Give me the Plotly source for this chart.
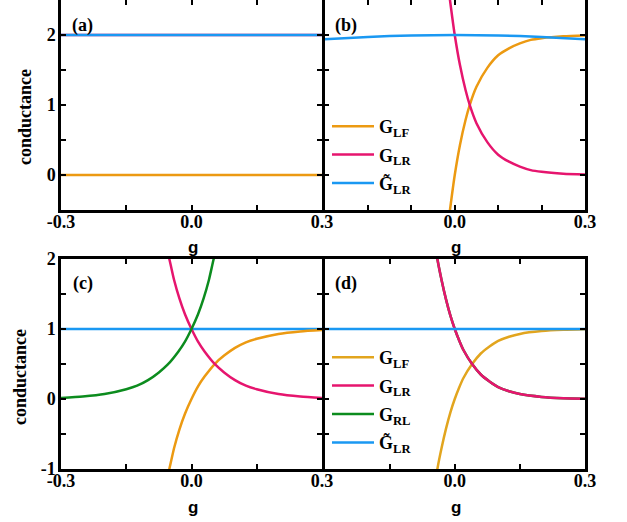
import plotly.graph_objects as go

# ---------------- data ----------------
# panel (a)
g_a = [-0.3, 0.3]
GLF_a = [0.0, 0.0]
GLR_a = [2.0, 2.0]
GLRt_a = [2.0, 2.0]

# panel (b)
g_b = [-0.02, -0.011, 0.0, 0.012, 0.025, 0.035, 0.05, 0.075, 0.1, 0.125, 0.15, 0.175, 0.2, 0.25, 0.3]
GLR_b = [2.95, 2.5, 2.0, 1.57, 1.21, 0.99, 0.74, 0.47, 0.29, 0.19, 0.12, 0.07, 0.045, 0.018, 0.006]
GLF_b = [-0.95, -0.5, 0.0, 0.43, 0.79, 1.01, 1.26, 1.53, 1.71, 1.81, 1.88, 1.93, 1.955, 1.982, 1.994]
g_bt = [-0.3, -0.2, -0.1, 0.0, 0.1, 0.2, 0.3]
GLRt_b = [1.94, 1.973, 1.993, 2.0, 1.993, 1.973, 1.94]

# panel (c)
g_c = [-0.06, -0.051, -0.04, -0.028, -0.015, 0.0, 0.015, 0.03, 0.055, 0.075, 0.1, 0.125, 0.15, 0.2, 0.25, 0.3]
GLR_c = [2.2, 2.0, 1.7, 1.44, 1.21, 1.0, 0.82, 0.68, 0.49, 0.38, 0.27, 0.19, 0.14, 0.07, 0.035, 0.015]
GLF_c = [-1.2, -1.0, -0.7, -0.44, -0.21, 0.0, 0.18, 0.32, 0.51, 0.62, 0.73, 0.81, 0.86, 0.93, 0.965, 0.985]
g_cr = [-0.3, -0.25, -0.2, -0.15, -0.125, -0.1, -0.075, -0.055, -0.03, -0.015, 0.0, 0.015, 0.028, 0.04, 0.051, 0.06]
GRL_c = [0.015, 0.035, 0.07, 0.14, 0.19, 0.27, 0.38, 0.49, 0.68, 0.82, 1.0, 1.21, 1.44, 1.7, 2.0, 2.2]
g_ct = [-0.3, 0.3]
GLRt_c = [1.0, 1.0]

# panel (d)
g_d = [-0.05, -0.04, -0.03, -0.02, -0.01, 0.0, 0.01, 0.02, 0.04, 0.06, 0.08, 0.1, 0.125, 0.15, 0.2, 0.25, 0.3]
GLR_d = [2.4, 2.0, 1.69, 1.42, 1.19, 1.0, 0.84, 0.70, 0.50, 0.35, 0.25, 0.17, 0.11, 0.07, 0.03, 0.012, 0.005]
GRL_d = [2.4, 2.0, 1.69, 1.42, 1.19, 1.0, 0.84, 0.70, 0.50, 0.35, 0.25, 0.17, 0.11, 0.07, 0.03, 0.012, 0.005]
GLF_d = [-1.4, -1.0, -0.69, -0.42, -0.19, 0.0, 0.16, 0.30, 0.50, 0.65, 0.75, 0.83, 0.89, 0.93, 0.97, 0.988, 0.995]
g_dt = [-0.3, 0.3]
GLRt_d = [1.0, 1.0]

# tick labels
x_ticks_left = [-0.3, 0.0, 0.3]
x_text_left = ["-0.3", "0.0", "0.3"]
x_ticks_right = [0.0, 0.3]
x_text_right = ["0.0", "0.3"]
y_ticks_top = [0, 1, 2]
y_text_top = ["0", "1", "2"]
y_ticks_bot = [-1, 0, 1, 2]
y_text_bot = ["-1", "0", "1", "2"]

names = ["<b>G<sub>LF</sub></b>", "<b>G<sub>LR</sub></b>", "<b>G<sub>RL</sub></b>", "<b>G\u0303<sub>LR</sub></b>"]

C_LF = "#EC9A12"
C_LF_d = "#E2A51E"
C_LR = "#E6156E"
C_RL = "#0C8C1E"
C_T = "#1A98F2"
LW = 2.5

W, H = 627, 522
fig = go.Figure()


def add(x, y, color, xa, ya, name, legend=None, rank=None):
    fig.add_trace(go.Scatter(
        x=x, y=y, mode="lines", line=dict(color=color, width=LW, shape="spline", smoothing=0.6),
        xaxis=xa, yaxis=ya, name=name, showlegend=legend is not None,
        legend=legend if legend else "legend",
        legendgroup=(legend or "") + name, legendrank=rank if rank else 1000))


# (a)
add(g_a, GLF_a, C_LF, "x", "y", names[0])
add(g_a, GLR_a, C_LR, "x", "y", names[1])
add(g_a, GLRt_a, C_T, "x", "y", names[3])
# (b)
add(g_b, GLF_b, C_LF, "x2", "y2", names[0], "legend", 1)
add(g_b, GLR_b, C_LR, "x2", "y2", names[1], "legend", 2)
add(g_bt, GLRt_b, C_T, "x2", "y2", names[3], "legend", 3)
# (c)
add(g_ct, GLRt_c, C_T, "x3", "y3", names[3])
add(g_c, GLF_c, C_LF, "x3", "y3", names[0])
add(g_c, GLR_c, C_LR, "x3", "y3", names[1])
add(g_cr, GRL_c, C_RL, "x3", "y3", names[2])
# (d)
add(g_d, GLF_d, C_LF_d, "x4", "y4", names[0], "legend2", 1)
add(g_d, GRL_d, C_RL, "x4", "y4", names[2], "legend2", 3)
add(g_d, GLR_d, C_LR, "x4", "y4", names[1], "legend2", 2)
add(g_dt, GLRt_d, C_T, "x4", "y4", names[3], "legend2", 4)

TF = dict(family="Liberation Serif", size=18, color="black", weight="bold")
MINOR = dict(ticks="inside", ticklen=5, tickwidth=2, tickcolor="black", tick0=0)


def axstyle(**kw):
    d = dict(showline=True, linecolor="black", linewidth=2.5, mirror="allticks",
             ticks="inside", ticklen=5, tickwidth=2, tickcolor="black",
             showgrid=False, zeroline=False, tickfont=TF, automargin=False)
    d.update(kw)
    return d


def mn(dt):
    m = dict(MINOR)
    m["dtick"] = dt
    return m


xl, xa_r, xb_l, xr = 61 / W, 322 / W, 324.5 / W, 585 / W
yt = [1 - 210 / H, 1.0]
yb = [1 - 469 / H, 1 - 259 / H]
XS = -6
YS = -1

fig.update_layout(
    width=W, height=H, margin=dict(l=0, r=0, t=0, b=0),
    paper_bgcolor="white", plot_bgcolor="white",
    xaxis=axstyle(domain=[xl, xa_r], anchor="y", range=[-0.3, 0.3], tickvals=x_ticks_left,
                  ticktext=x_text_left, minor=mn(0.15), ticklabelstandoff=XS),
    yaxis=axstyle(domain=yt, anchor="x", range=[-0.5, 2.5], tickvals=y_ticks_top,
                  ticktext=y_text_top, minor=mn(0.5), ticklabelstandoff=YS),
    xaxis2=axstyle(domain=[xb_l, xr], anchor="y2", range=[-0.3, 0.3], tickvals=x_ticks_right,
                   ticktext=x_text_right, minor=mn(0.1), ticklabelstandoff=XS),
    yaxis2=axstyle(domain=yt, anchor="x2", range=[-0.5, 2.5], tickvals=y_ticks_top,
                   showticklabels=False, minor=mn(0.5)),
    xaxis3=axstyle(domain=[xl, xa_r], anchor="y3", range=[-0.3, 0.3], tickvals=x_ticks_left,
                   ticktext=x_text_left, minor=mn(0.15), ticklabelstandoff=XS),
    yaxis3=axstyle(domain=yb, anchor="x3", range=[-1, 2], tickvals=y_ticks_bot,
                   ticktext=y_text_bot, minor=mn(0.5), ticklabelstandoff=YS),
    xaxis4=axstyle(domain=[xb_l, xr], anchor="y4", range=[-0.3, 0.3], tickvals=x_ticks_right,
                   ticktext=x_text_right, minor=mn(0.15), ticklabelstandoff=XS),
    yaxis4=axstyle(domain=yb, anchor="x4", range=[-1, 2], tickvals=y_ticks_bot,
                   showticklabels=False, minor=mn(0.5)),
    legend=dict(x=327 / W, y=1 - 108 / H, xanchor="left", yanchor="top", bgcolor="rgba(0,0,0,0)",
                font=dict(family="Liberation Serif", size=18, color="black"),
                traceorder="grouped", tracegroupgap=2, itemwidth=42),
    legend2=dict(x=327 / W, y=1 - 339 / H, xanchor="left", yanchor="top", bgcolor="rgba(0,0,0,0)",
                 font=dict(family="Liberation Serif", size=18, color="black"),
                 traceorder="grouped", tracegroupgap=2, itemwidth=42),
    showlegend=True,
)

ann = []
for txt, x, y in [("(a)", 70, 26), ("(b)", 333, 26), ("(c)", 71, 283), ("(d)", 333, 283)]:
    ann.append(dict(text="<b>%s</b>" % txt, x=x / W, y=1 - y / H, xref="paper", yref="paper",
                    xanchor="left", yanchor="middle", showarrow=False,
                    font=dict(family="Liberation Serif", size=18, color="black")))
for x, y in [(193, 247), (456, 247), (193, 507), (456, 507)]:
    ann.append(dict(text="<b>g</b>", x=x / W, y=1 - y / H, xref="paper", yref="paper",
                    xanchor="center", yanchor="middle", showarrow=False,
                    font=dict(family="Liberation Sans", size=17, color="black")))
for x, y in [(25, 117), (20, 377)]:
    ann.append(dict(text="<b>conductance</b>", x=x / W, y=1 - y / H, xref="paper", yref="paper",
                    xanchor="center", yanchor="middle", showarrow=False, textangle=-90,
                    font=dict(family="Liberation Serif", size=18, color="black")))
fig.update_layout(annotations=ann)

fig.write_html("out.html", config={"displayModeBar": False},
               post_script="document.body.style.margin='0px';")
